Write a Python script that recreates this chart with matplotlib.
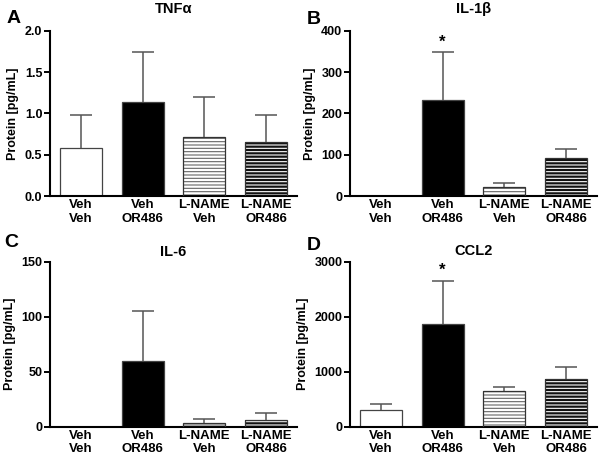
import matplotlib
matplotlib.use("Agg")
import matplotlib.pyplot as plt
import numpy as np

plt.rcParams['font.family'] = ['Liberation Sans', 'DejaVu Sans']
plt.rcParams['font.weight'] = 'bold'
plt.rcParams['hatch.linewidth'] = 0.8

groups = ["Veh\nVeh", "Veh\nOR486", "L-NAME\nVeh", "L-NAME\nOR486"]

tnfa_mean = [0.58, 1.14, 0.72, 0.65]
tnfa_top = [0.98, 1.74, 1.20, 0.98]
il1b_mean = [1.0, 232, 22, 92]
il1b_top = [1.0, 348, 31, 113]
il6_mean = [0.0, 60, 3.5, 6.5]
il6_top = [0.0, 105, 7, 12.5]
ccl2_mean = [310, 1870, 650, 875]
ccl2_top = [410, 2650, 720, 1080]

panels = [
    ("A", "TNFα", tnfa_mean, tnfa_top, [0.0, 0.5, 1.0, 1.5, 2.0], "{:.1f}", [], 13),
    ("B", "IL-1β", il1b_mean, il1b_top, [0, 100, 200, 300, 400], "{:.0f}", [1], 13),
    ("C", "IL-6", il6_mean, il6_top, [0, 50, 100, 150], "{:.0f}", [], 4),
    ("D", "CCL2", ccl2_mean, ccl2_top, [0, 1000, 2000, 3000], "{:.0f}", [1], 5),
]

positions = [
    [0.0833, 0.5692, 0.4117, 0.3627],
    [0.5833, 0.5692, 0.4117, 0.3627],
    [0.0833, 0.0622, 0.4117, 0.3626],
    [0.5833, 0.0622, 0.4117, 0.3626],
]
letter_pos = [(0.011, 0.960), (0.511, 0.958), (0.007, 0.467), (0.511, 0.461)]

fig = plt.figure(figsize=(6.0, 4.55), dpi=100)

face = ['white', 'black', 'white', '#111111']
hatchc = [None, None, '#666666', 'white']

for i, (letter, title, mean, top, yt, fmt, stars, pad) in enumerate(panels):
    ax = fig.add_axes(positions[i])
    x = np.arange(len(groups))
    mean = np.array(mean)
    top = np.array(top)
    w = 0.68
    for j in range(len(groups)):
        if hatchc[j] is None:
            ax.bar(x[j], mean[j], width=w, color=face[j], edgecolor='#444444', linewidth=0.9, zorder=2)
        else:
            ax.bar(x[j], mean[j], width=w, color=face[j], edgecolor=hatchc[j], hatch='-----', linewidth=0, zorder=2)
            ax.bar(x[j], mean[j], width=w, fill=False, edgecolor='#333333', linewidth=0.9, zorder=3)
    err = top - mean
    mask = err > 0
    eb = ax.errorbar(x[mask], mean[mask], yerr=[np.zeros(mask.sum()), err[mask]], fmt='none',
                     ecolor='#555555', elinewidth=1.1, capsize=8, capthick=1.1, zorder=4)
    caps = eb[1]
    if len(caps) > 1:
        caps[0].set_visible(False)
    for s in stars:
        ax.annotate('*', xy=(x[s], top[s]), xytext=(0, 2), textcoords='offset points',
                    ha='center', va='bottom', fontsize=12, fontweight='bold')
    ax.set_xlim(-0.5, 3.5)
    ax.set_ylim(yt[0], yt[-1])
    ax.set_yticks(yt)
    ax.set_yticklabels([fmt.format(v) for v in yt], fontsize=9, fontweight='bold')
    ax.set_xticks(x)
    ax.set_xticklabels(groups, fontsize=9.5, fontweight='bold', linespacing=1.12)
    ax.tick_params(axis='x', length=0, pad=2.5)
    ax.tick_params(axis='y', length=4, width=1.4, pad=1.5, direction='out')
    for sp in ['top', 'right']:
        ax.spines[sp].set_visible(False)
    for sp in ['left', 'bottom']:
        ax.spines[sp].set_linewidth(1.5)
    ax.set_ylabel("Protein [pg/mL]", fontsize=9, fontweight='bold', labelpad=4)
    ax.set_title(title, fontsize=10.5, fontweight='bold', pad=pad)
    fig.text(letter_pos[i][0], letter_pos[i][1], letter, fontsize=14, fontweight='bold',
             ha='left', va='center')

fig.savefig("out.png", dpi=100)
